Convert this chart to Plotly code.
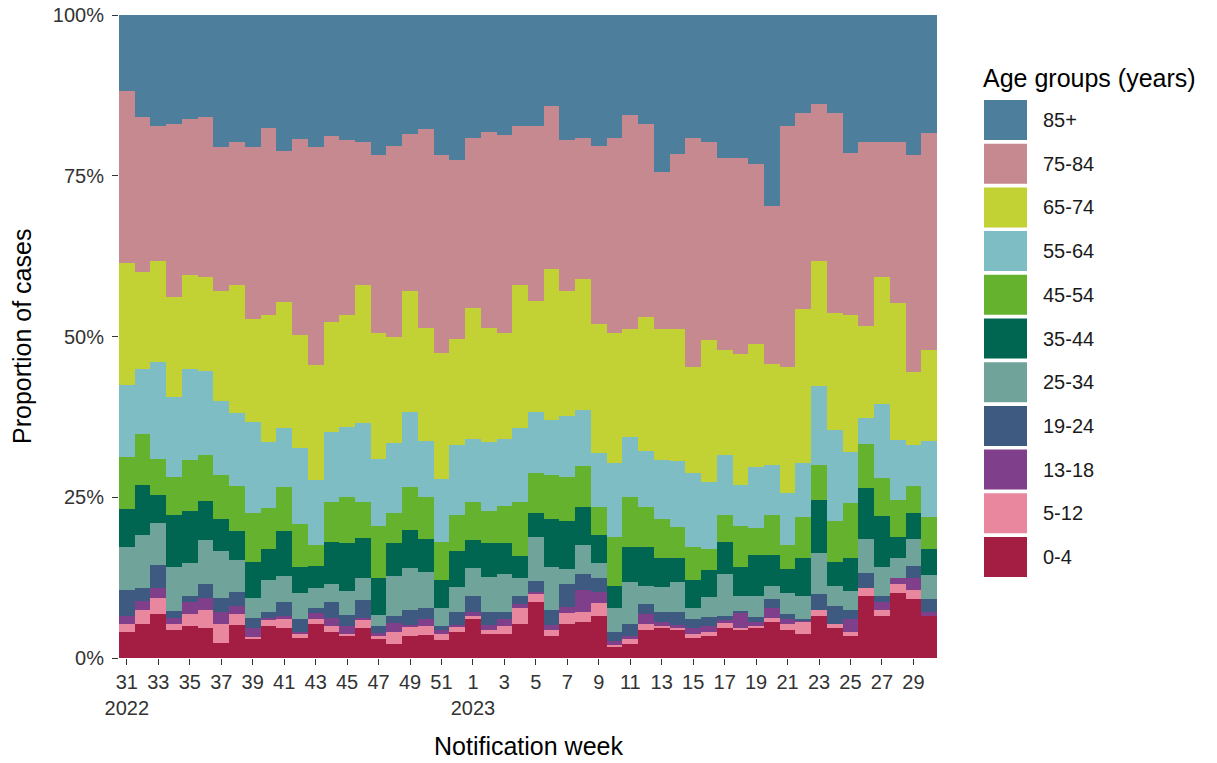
import plotly.graph_objects as go

# ---------------- data ----------------
weeks = list(range(31, 53)) + list(range(1, 31))
years = [2022] * 22 + [2023] * 30

age_groups = ["0-4", "5-12", "13-18", "19-24", "25-34", "35-44",
              "45-54", "55-64", "65-74", "75-84", "85+"]

colors = ["#a41d42", "#e8879d", "#7f3f8b", "#3e5a80", "#70a39a", "#006652",
          "#65b22e", "#7dbdc3", "#c2d133", "#c6898f", "#4d7f9d"]

# cumulative top (%) of each age band, per notification week
top_0_4 = [4.0, 5.3, 6.8, 4.4, 4.9, 4.7, 2.4, 5.2, 3.1, 4.9, 4.7, 3.1, 5.3, 4.0, 3.5, 4.7, 3.1, 2.2, 3.4, 3.6,
           2.8, 4.0, 6.0, 3.8, 3.8, 5.3, 8.7, 3.4, 5.3, 5.6, 6.5, 1.8, 2.2, 4.3, 4.8, 4.4, 3.1, 3.4, 4.7, 4.5,
           4.7, 5.6, 4.4, 3.7, 6.5, 4.7, 3.5, 9.7, 6.6, 10.1, 9.1, 6.6]
top_5_12 = [5.3, 7.5, 9.3, 5.3, 6.8, 7.5, 5.3, 6.9, 3.2, 6.0, 6.2, 3.8, 6.1, 4.9, 3.8, 6.0, 3.4, 4.0, 4.9, 5.0,
            3.8, 4.9, 6.6, 4.4, 4.9, 7.8, 9.9, 4.4, 7.0, 7.1, 8.6, 2.0, 3.1, 5.3, 5.0, 4.7, 3.8, 4.1, 5.4, 4.7,
            4.9, 6.2, 5.3, 5.6, 7.5, 5.3, 4.1, 10.9, 7.5, 11.5, 10.6, 6.6]
top_13_18 = [6.5, 8.8, 10.9, 6.2, 8.7, 9.3, 7.1, 8.1, 4.7, 6.2, 6.5, 4.1, 7.0, 6.2, 4.9, 6.2, 3.9, 5.4, 5.2, 6.0,
             4.3, 5.2, 7.1, 5.2, 6.0, 8.4, 10.3, 5.2, 8.0, 10.6, 10.3, 2.7, 3.4, 6.8, 5.6, 5.2, 4.7, 4.9, 5.9, 7.0,
             5.6, 7.8, 6.0, 5.8, 7.5, 5.3, 6.0, 10.9, 8.7, 12.4, 12.4, 7.1]
top_19_24 = [10.6, 10.9, 14.4, 7.3, 9.7, 11.5, 9.3, 10.3, 6.2, 7.1, 8.7, 6.0, 7.8, 8.7, 6.7, 9.0, 4.9, 6.5, 7.4, 7.7,
             4.9, 7.1, 9.6, 7.1, 7.1, 9.7, 11.9, 7.5, 11.5, 13.1, 12.5, 4.0, 5.3, 8.4, 7.1, 7.1, 6.0, 6.3, 6.6, 7.3,
             6.4, 9.1, 6.8, 6.1, 9.9, 8.1, 7.5, 13.2, 9.6, 12.4, 14.3, 9.1]
top_25_34 = [17.2, 19.1, 21.0, 14.1, 14.8, 18.4, 16.6, 15.3, 9.3, 12.2, 12.8, 10.1, 10.9, 11.5, 10.4, 12.4, 6.7, 12.8,
             14.0, 13.3, 7.8, 11.1, 14.0, 12.6, 13.1, 12.4, 18.8, 14.1, 13.8, 17.5, 14.8, 7.8, 11.8, 11.2, 11.0, 11.8,
             7.8, 9.5, 13.1, 9.7, 9.7, 11.2, 10.1, 9.7, 16.3, 11.2, 10.4, 18.5, 14.1, 15.5, 18.5, 12.9]
top_35_44 = [23.1, 26.9, 25.4, 22.2, 22.8, 24.4, 21.6, 19.7, 15.0, 16.9, 19.7, 14.1, 14.3, 18.1, 17.9, 18.7, 12.4, 17.9,
             19.9, 18.5, 12.2, 16.6, 18.4, 17.9, 17.9, 15.9, 22.5, 21.6, 21.3, 23.5, 19.1, 11.2, 17.2, 17.2, 15.6, 15.6,
             12.2, 13.7, 18.1, 14.1, 16.0, 16.0, 13.9, 15.5, 24.5, 14.9, 15.5, 26.4, 22.1, 18.8, 22.5, 17.0]
top_45_54 = [31.3, 34.8, 31.0, 28.1, 30.8, 31.6, 28.5, 26.8, 22.5, 23.4, 26.6, 20.9, 17.6, 24.3, 25.0, 24.3, 20.6, 22.5,
             26.6, 25.0, 18.1, 22.2, 24.3, 22.9, 23.7, 24.3, 28.8, 28.4, 28.1, 29.8, 23.5, 18.8, 25.0, 23.5, 21.6, 20.3,
             17.2, 16.9, 22.2, 20.5, 20.2, 22.3, 17.6, 22.0, 30.0, 21.3, 24.1, 33.3, 28.0, 24.5, 26.8, 21.9]
top_55_64 = [42.4, 44.9, 46.1, 40.6, 44.9, 44.6, 39.9, 38.1, 36.7, 33.6, 35.8, 32.6, 27.7, 35.1, 36.0, 36.6, 31.0, 33.5,
             38.2, 33.8, 27.9, 33.1, 34.1, 33.6, 34.1, 35.7, 38.2, 37.0, 37.6, 38.5, 31.9, 30.4, 34.4, 32.2, 30.8, 30.7,
             28.8, 27.3, 31.6, 26.9, 29.7, 30.0, 25.6, 30.4, 42.3, 35.5, 32.1, 37.3, 39.5, 33.9, 33.2, 33.8]
top_65_74 = [61.5, 60.0, 61.8, 56.2, 59.6, 59.3, 57.1, 58.0, 52.8, 53.4, 55.3, 50.2, 45.5, 52.3, 53.3, 58.0, 50.5, 49.9,
             57.1, 51.4, 47.4, 49.6, 54.5, 51.4, 50.5, 58.0, 55.5, 60.5, 57.1, 58.9, 52.0, 50.5, 51.1, 53.0, 51.1, 51.1,
             45.2, 49.5, 47.9, 47.3, 48.9, 45.8, 45.2, 54.2, 61.8, 53.6, 53.3, 51.7, 59.3, 55.2, 44.5, 47.9]
top_75_84 = [88.2, 84.1, 82.8, 83.1, 83.8, 84.1, 79.4, 80.3, 79.4, 82.5, 78.8, 80.7, 79.4, 81.2, 80.6, 80.3, 78.2, 79.7,
             81.5, 82.2, 78.2, 77.5, 80.9, 81.8, 81.3, 82.8, 82.8, 85.9, 80.6, 80.9, 79.7, 80.9, 84.4, 83.1, 75.6, 78.4,
             80.9, 80.3, 77.8, 77.8, 76.9, 70.3, 82.8, 84.7, 86.2, 84.7, 78.5, 80.3, 80.3, 80.3, 78.2, 81.6]
top_85_plus = [100.0] * 52

tops = [top_0_4, top_5_12, top_13_18, top_19_24, top_25_34, top_35_44,
        top_45_54, top_55_64, top_65_74, top_75_84, top_85_plus]

# ---------------- figure ----------------
W, H = 1217, 763
L, R, T, B = 119, 280, 15, 105
FONT = "Liberation Sans, Arial, sans-serif"
TICK_FONT = dict(size=20, color="#333333", family=FONT)

x_idx = list(range(len(weeks)))
fig = go.Figure()
prev = [0.0] * len(weeks)
for name, col, top in zip(age_groups, colors, tops):
    share = [(t - p) / 100.0 for t, p in zip(top, prev)]
    fig.add_trace(go.Bar(x=x_idx, y=share, name=name, marker=dict(color=col, line=dict(width=0)),
                         showlegend=False,
                         hovertemplate=name + ": %{y:.1%}<extra></extra>"))
    prev = top

tickvals = x_idx[::2]
ticktext = []
for i in tickvals:
    lab = str(weeks[i])
    if i == 0 or weeks[i] == 1:
        lab += "<br>" + str(years[i])
    ticktext.append(lab)

fig.update_layout(
    width=W, height=H, barmode="stack", bargap=0,
    margin=dict(l=L, r=R, t=T, b=B, autoexpand=False),
    paper_bgcolor="white", plot_bgcolor="white",
    font=dict(family=FONT, color="#000000"),
    xaxis=dict(range=[-0.5, len(weeks) - 0.5], tickmode="array", tickvals=tickvals, ticktext=ticktext,
               tickangle=0,
               ticks="outside", ticklen=6, tickwidth=1, tickcolor="#333333", showgrid=False,
               zeroline=False, showline=False, automargin=False, tickfont=TICK_FONT),
    yaxis=dict(range=[0, 1], tickvals=[0, 0.25, 0.5, 0.75, 1.0], tickformat=".0%",
               ticks="outside", ticklen=6, tickwidth=1, tickcolor="#333333", showgrid=False,
               zeroline=False, showline=False, automargin=False, tickfont=TICK_FONT,
               ticklabelstandoff=4),
)

pw = W - L - R
ph = H - T - B


def px_x(px):
    return (px - L) / pw


def px_y(py):
    return (H - B - py) / ph


annotations = [
    dict(text="Notification week", x=px_x(528), y=px_y(746), xref="paper", yref="paper",
         showarrow=False, font=dict(size=25, family=FONT, color="#000"), xanchor="center", yanchor="middle"),
    dict(text="Proportion of cases", x=px_x(22), y=px_y(337), xref="paper", yref="paper", textangle=-90,
         showarrow=False, font=dict(size=25, family=FONT, color="#000"), xanchor="center", yanchor="middle"),
    dict(text="Age groups (years)", x=px_x(981), y=px_y(78), xref="paper", yref="paper",
         showarrow=False, font=dict(size=25, family=FONT, color="#000"), xanchor="left", yanchor="middle"),
]
shapes = []
legend_order = list(range(len(age_groups)))[::-1]
for k, gi in enumerate(legend_order):
    cy = 120 + k * 43.7
    shapes.append(dict(type="rect", xref="paper", yref="paper",
                       x0=px_x(984), x1=px_x(1027), y0=px_y(cy - 20), y1=px_y(cy + 20),
                       fillcolor=colors[gi], line=dict(width=0)))
    annotations.append(dict(text=age_groups[gi], x=px_x(1041), y=px_y(cy), xref="paper", yref="paper",
                            showarrow=False, font=dict(size=20, family=FONT, color="#1a1a1a"),
                            xanchor="left", yanchor="middle"))

fig.update_layout(annotations=annotations, shapes=shapes)
fig.write_html("out.html", config={"displayModeBar": False},
               post_script="document.body.style.margin='0px';")
